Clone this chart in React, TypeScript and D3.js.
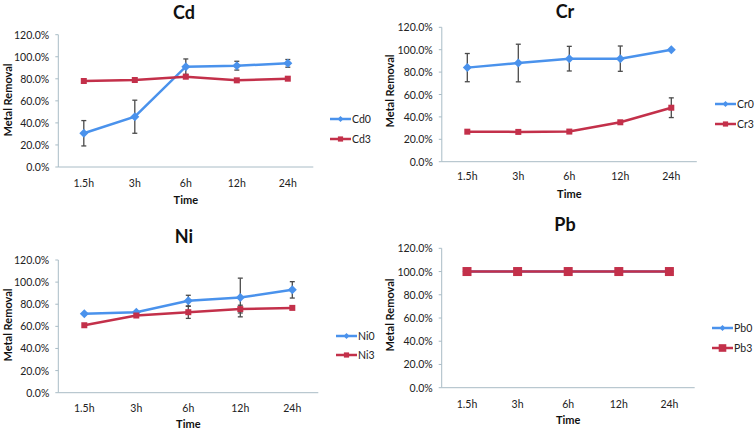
import React from "react";
import * as d3 from "d3";

const categories = ["1.5h", "3h", "6h", "12h", "24h"];
const yTicks = [0, 20, 40, 60, 80, 100, 120];

const cd0 = [30.6, 45.6, 91.0, 91.9, 94.0];
const cd0Err = [11.5, 15.0, 7.0, 4.0, 3.5];
const cd3 = [78.0, 78.9, 81.9, 78.6, 80.1];
const cd3Err = [0, 0, 0, 0, 0];

const cr0 = [84.0, 88.1, 92.0, 92.0, 100.0];
const cr0Err = [12.6, 16.8, 11.0, 11.3, 0];
const cr3 = [26.8, 26.6, 26.9, 35.2, 48.2];
const cr3Err = [0, 0, 0, 0, 8.8];

const ni0 = [71.3, 72.8, 83.1, 86.1, 93.0];
const ni0Err = [0, 0, 5.0, 17.5, 7.4];
const ni3 = [61.0, 69.8, 72.8, 75.6, 76.7];
const ni3Err = [0, 0, 5.6, 3.5, 0];

const pb0 = [100, 100, 100, 100, 100];
const pb0Err = [0, 0, 0, 0, 0];
const pb3 = [100, 100, 100, 100, 100];
const pb3Err = [0, 0, 0, 0, 0];

const BLUE = "#4A92EC";
const RED = "#C3304A";
const AXIS = "#A9BCC6";
const ERR = "#4A4A4A";
const FONT = "Lato, 'Open Sans', sans-serif";

type Series = { name: string; values: number[]; errors: number[]; color: string; marker: "diamond" | "square"; size: number; legendSize: number };
type Layout = {
  left: number; right: number; top: number; bottom: number;
  titleX: number; titleY: number; yLabelX: number; yLabelY: number;
  xLabelY: number; xTickY: number; legendX: number; legendY: number[];
};

function Marker({ x, y, kind, size, color }: { x: number; y: number; kind: string; size: number; color: string }) {
  if (kind === "diamond") {
    const s = size;
    return <path d={`M${x},${y - s}L${x + s},${y}L${x},${y + s}L${x - s},${y}Z`} fill={color} />;
  }
  return <rect x={x - size} y={y - size} width={size * 2} height={size * 2} fill={color} />;
}

function Panel({ title, series, L }: { title: string; series: Series[]; L: Layout }) {
  const x = d3.scalePoint<string>().domain(categories).range([L.left, L.right]).padding(0.5);
  const y = d3.scaleLinear().domain([0, 120]).range([L.bottom, L.top]);
  const line = d3.line<number>().x((_, i) => x(categories[i]) as number).y((d) => y(d));
  return (
    <g>
      <text x={L.titleX} y={L.titleY} textAnchor="middle" dominantBaseline="central" fontFamily={FONT} fontWeight="bold" fontSize={18} fill="#111">{title}</text>
      <line x1={L.left} x2={L.left} y1={L.top} y2={L.bottom} stroke={AXIS} strokeWidth={1} />
      <line x1={L.left} x2={L.right} y1={L.bottom} y2={L.bottom} stroke={AXIS} strokeWidth={1} />
      {yTicks.map((t) => (
        <g key={t}>
          <line x1={L.left - 3} x2={L.left} y1={y(t)} y2={y(t)} stroke={AXIS} />
          <text x={L.left - 9} y={y(t)} textAnchor="end" dominantBaseline="central" fontFamily={FONT} fontSize={10.5} fill="#222">{t.toFixed(1) + "%"}</text>
        </g>
      ))}
      {categories.map((c) => (
        <text key={c} x={x(c)} y={L.xTickY} textAnchor="middle" dominantBaseline="central" fontFamily={FONT} fontSize={10.5} fill="#222">{c}</text>
      ))}
      <text transform={`translate(${L.yLabelX},${L.yLabelY}) rotate(-90)`} textAnchor="middle" dominantBaseline="central" fontFamily={FONT} fontWeight="bold" fontSize={11} fill="#111">Metal Removal</text>
      <text x={(L.left + L.right) / 2} y={L.xLabelY} textAnchor="middle" dominantBaseline="central" fontFamily={FONT} fontWeight="bold" fontSize={11} fill="#111">Time</text>
      {series.map((s) => (
        <g key={s.name}>
          {s.values.map((v, i) => s.errors[i] > 0 ? (
            <g key={i} stroke={ERR} strokeWidth={1.3}>
              <line x1={x(categories[i])} x2={x(categories[i])} y1={y(v + s.errors[i])} y2={y(v - s.errors[i])} />
              <line x1={(x(categories[i]) as number) - 2.5} x2={(x(categories[i]) as number) + 2.5} y1={y(v + s.errors[i])} y2={y(v + s.errors[i])} />
              <line x1={(x(categories[i]) as number) - 2.5} x2={(x(categories[i]) as number) + 2.5} y1={y(v - s.errors[i])} y2={y(v - s.errors[i])} />
            </g>
          ) : null)}
          <path d={line(s.values) as string} fill="none" stroke={s.color} strokeWidth={2.5} />
          {s.values.map((v, i) => (
            <Marker key={i} x={x(categories[i]) as number} y={y(v)} kind={s.marker} size={s.size} color={s.color} />
          ))}
        </g>
      ))}
      {series.map((s, k) => (
        <g key={"lg" + s.name}>
          <line x1={L.legendX} x2={L.legendX + 21} y1={L.legendY[k]} y2={L.legendY[k]} stroke={s.color} strokeWidth={2.5} />
          <Marker x={L.legendX + 10.5} y={L.legendY[k]} kind={s.marker} size={s.legendSize} color={s.color} />
          <text x={L.legendX + 22} y={L.legendY[k]} dominantBaseline="central" fontFamily={FONT} fontSize={10.5} fill="#222">{s.name}</text>
        </g>
      ))}
    </g>
  );
}

const mk = (name: string, values: number[], errors: number[], idx: number, big = false): Series => ({
  name, values, errors,
  color: idx === 0 ? BLUE : RED,
  marker: idx === 0 ? "diamond" : "square",
  size: idx === 0 ? 4.5 : big ? 4.5 : 3,
  legendSize: idx === 0 ? 3 : big ? 3.8 : 2.6,
});

export default function App() {
  return (
    <svg width={756} height={429} style={{ position: "absolute", left: 0, top: 0, background: "#fff" }}>
      <Panel title="Cd" series={[mk("Cd0", cd0, cd0Err, 0), mk("Cd3", cd3, cd3Err, 1)]}
        L={{ left: 58.3, right: 313.3, top: 34.7, bottom: 167, titleX: 184, titleY: 12, yLabelX: 7, yLabelY: 100, xLabelY: 199, xTickY: 183, legendX: 330, legendY: [119, 139] }} />
      <Panel title="Cr" series={[mk("Cr0", cr0, cr0Err, 0), mk("Cr3", cr3, cr3Err, 1)]}
        L={{ left: 441.8, right: 696.8, top: 27.3, bottom: 161.7, titleX: 565, titleY: 11, yLabelX: 389.5, yLabelY: 91, xLabelY: 193, xTickY: 176, legendX: 715, legendY: [104, 124] }} />
      <Panel title="Ni" series={[mk("Ni0", ni0, ni0Err, 0), mk("Ni3", ni3, ni3Err, 1)]}
        L={{ left: 58.3, right: 318.3, top: 260, bottom: 392.7, titleX: 184, titleY: 236, yLabelX: 7, yLabelY: 325, xLabelY: 423, xTickY: 407.5, legendX: 336, legendY: [336, 355] }} />
      <Panel title="Pb" series={[mk("Pb0", pb0, pb0Err, 0), mk("Pb3", pb3, pb3Err, 1, true)]}
        L={{ left: 441.7, right: 694.7, top: 248.3, bottom: 387.7, titleX: 565, titleY: 224, yLabelX: 389.5, yLabelY: 315, xLabelY: 419, xTickY: 403.5, legendX: 712, legendY: [328, 348] }} />
    </svg>
  );
}
